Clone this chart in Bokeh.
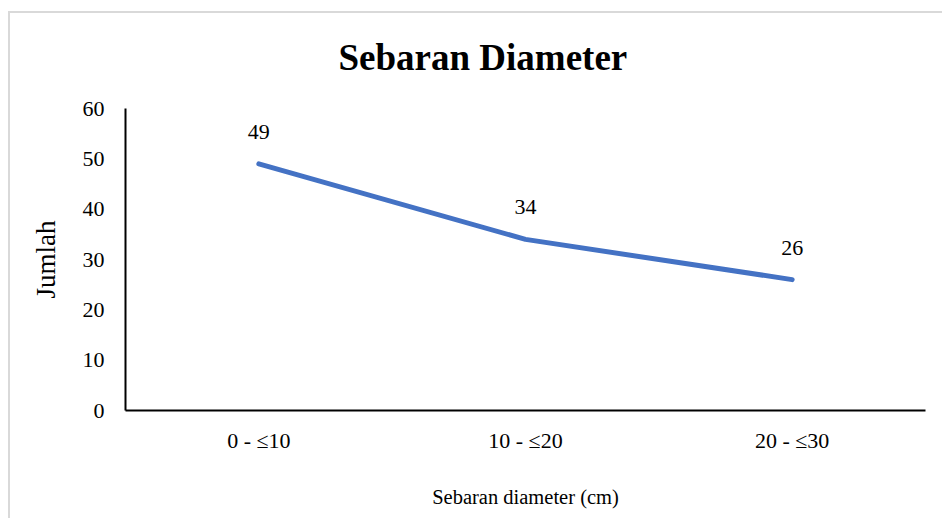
from bokeh.plotting import figure
from bokeh.models import ColumnDataSource
from bokeh.embed import file_html
from bokeh.resources import INLINE
from bokeh.core.properties import value

categories = ["0 - ≤10", "10 - ≤20", "20 - ≤30"]
jumlah = [49, 34, 26]
y_ticks = [0, 10, 20, 30, 40, 50, 60]
title_text = "Sebaran Diameter"

FONT = "Liberation Serif"

src = ColumnDataSource(dict(x=categories, y=jumlah, lbl=[str(v) for v in jumlah]))

border_css = {
    "margin-left": "8px",
    "background-color": "white",
    "background-image": "linear-gradient(#d9d9d9, #d9d9d9), linear-gradient(#d9d9d9, #d9d9d9)",
    "background-size": "100% 2px, 2px 100%",
    "background-position": "0 11px, 0 11px",
    "background-repeat": "no-repeat",
}

p = figure(width=934, height=518, x_range=categories, y_range=(0, 60),
           output_backend="svg", toolbar_location=None,
           min_border_left=117, min_border_right=17, min_border_top=108,
           min_border_bottom=108, background_fill_color="white",
           border_fill_alpha=0, styles=border_css)
p.x_range.range_padding = 0
p.outline_line_color = None
p.grid.visible = False

p.title.text = title_text
p.title.align = "left"
p.title.offset = 213
p.title.vertical_align = "bottom"
p.title.standoff = 62
p.title.text_font = FONT
p.title.text_font_size = "37px"
p.title.text_font_style = "bold"
p.title.text_color = "black"

p.line("x", "y", source=src, line_color="#4472C4", line_width=5, line_cap="round")
p.text("x", "y", text="lbl", source=src, text_align="center", text_baseline="middle",
       y_offset=-32, text_font=value(FONT), text_font_size="22px", text_color="black")

for ax in (p.xaxis, p.yaxis):
    ax.major_tick_line_color = None
    ax.minor_tick_line_color = None
    ax.axis_line_color = "black"
    ax.axis_line_width = 2
    ax.major_label_text_font = FONT
    ax.major_label_text_font_size = "22px"
    ax.major_label_text_color = "black"
    ax.axis_label_text_font = FONT
    ax.axis_label_text_font_style = "normal"
    ax.axis_label_text_color = "black"

p.yaxis.ticker = y_ticks
p.yaxis.major_label_standoff = 15
p.yaxis.axis_label = "Jumlah"
p.yaxis.axis_label_text_font_size = "27px"
p.yaxis.axis_label_standoff = 19
p.xaxis.major_label_standoff = 11
p.xaxis.axis_label = "Sebaran diameter (cm)"
p.xaxis.axis_label_text_font_size = "20.5px"
p.xaxis.axis_label_standoff = 30

open("out.html", "w").write(file_html(p, INLINE))
